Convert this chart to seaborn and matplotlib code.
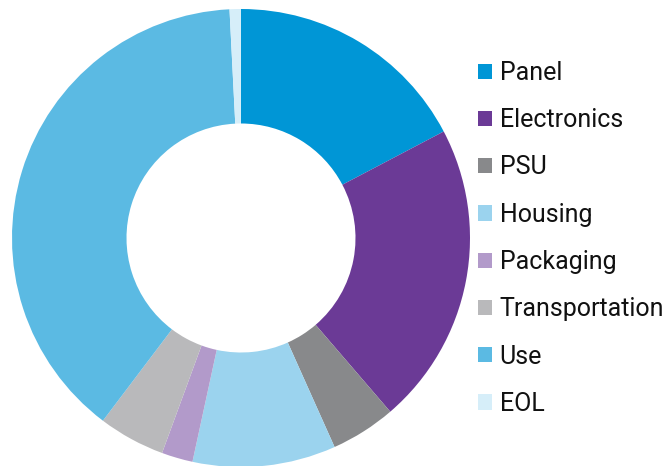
import matplotlib
matplotlib.use('Agg')
import matplotlib.pyplot as plt
from matplotlib.patches import Patch
import seaborn as sns

# shares (percent)
labels = ['Panel', 'Electronics', 'PSU', 'Housing', 'Packaging', 'Transportation', 'Use', 'EOL']
shares = [17.3, 21.4, 4.6, 10.1, 2.2, 4.7, 38.9, 0.8]
colors = ['#0096D6', '#6B3A96', '#88898B', '#9BD3EE', '#B29ACA', '#B9B9BB', '#5BBAE3', '#D6EEF9']

sns.set_style('white')
plt.rcParams['font.family'] = ['Roboto', 'DejaVu Sans']

fig = plt.figure(figsize=(6.67, 4.66), dpi=100)
ax = fig.add_axes([12 / 667, -1 / 466, 458 / 667, 458 / 466])
ax.pie(shares, colors=colors, startangle=90, counterclock=False, radius=1,
       wedgeprops=dict(width=0.5, edgecolor='none'))
ax.set_xlim(-1, 1)
ax.set_ylim(-1, 1)
ax.set_aspect('equal')
ax.axis('off')

handles = [Patch(facecolor=c, edgecolor='none') for c in colors]
leg = fig.legend(handles, labels, loc='upper left', bbox_to_anchor=(478 / 667, 1 - 61 / 466),
                 frameon=False, fontsize=18, handlelength=0.56, handleheight=0.56,
                 handletextpad=0.3, labelspacing=0.93, borderaxespad=0, borderpad=0)
for t in leg.get_texts():
    t.set_color('#111111')

fig.savefig('out.png', dpi=100)
